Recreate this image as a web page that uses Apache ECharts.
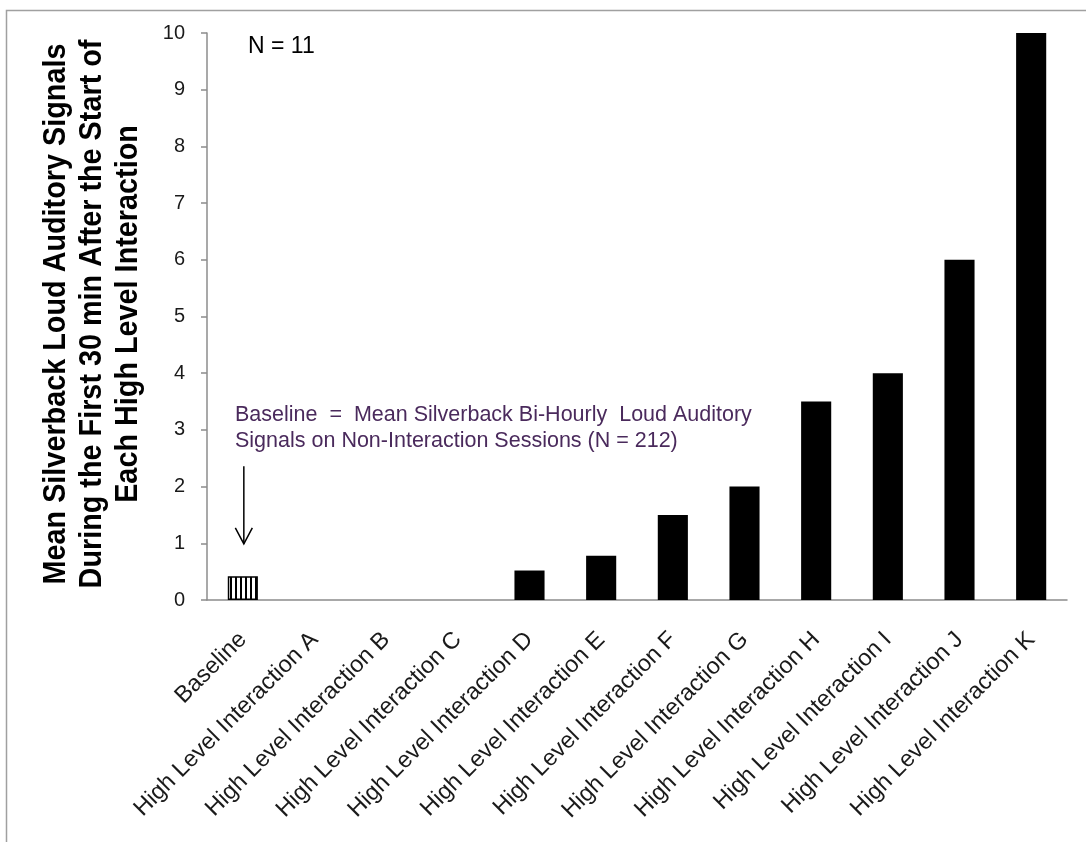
<!DOCTYPE html>
<html>
<head>
<meta charset="utf-8">
<script src="https://cdn.jsdelivr.net/npm/echarts@6/dist/echarts.min.js"></script>
<style>html,body{margin:0;padding:0;background:#fff;}#c{width:1086px;height:842px;}</style>
</head>
<body>
<div id="c"></div>
<script>
const categories = ['Baseline','High Level Interaction A','High Level Interaction B','High Level Interaction C','High Level Interaction D','High Level Interaction E','High Level Interaction F','High Level Interaction G','High Level Interaction H','High Level Interaction I','High Level Interaction J','High Level Interaction K'];
const values = [0.42, 0, 0, 0, 0.52, 0.78, 1.5, 2.0, 3.5, 4.0, 6.0, 10.0];
const yTicks = [0,1,2,3,4,5,6,7,8,9,10];
const yTitle = ['Mean Silverback Loud Auditory Signals','During the First 30 min After the Start of','Each High Level Interaction'];
const note = ['Baseline  =  Mean Silverback Bi-Hourly  Loud Auditory','Signals on Non-Interaction Sessions (N = 212)'];
const arrowFrom = 2.36, arrowTo = 0.99;

// stripe pattern for the baseline bar
const pc = document.createElement('canvas');
pc.width = 5; pc.height = 5;
const pctx = pc.getContext('2d');
pctx.fillStyle = '#fff'; pctx.fillRect(0,0,5,5);
pctx.fillStyle = '#000'; pctx.fillRect(0,0,2,5);

const data = values.map((v,i) => i === 0 ? {
  value: v,
  itemStyle: { color: { image: pc, repeat: 'repeat' }, borderColor: '#000', borderWidth: 1.5 }
} : v);

const FONT = 'Arial, "Liberation Sans", sans-serif';
const chart = echarts.init(document.getElementById('c'));
chart.setOption({
  animation: false,
  grid: { left: 207, right: 19, top: 33, bottom: 242 },
  xAxis: {
    type: 'category',
    data: categories,
    axisLine: { lineStyle: { color: '#8c8c8c', width: 1.5 } },
    axisTick: { alignWithLabel: false, length: 6, lineStyle: { color: '#8c8c8c', width: 1.5 } },
    axisLabel: { rotate: 45, interval: 0, fontFamily: FONT, fontSize: 23.5, color: '#1a1a1a', margin: 36 }
  },
  yAxis: {
    type: 'value', min: 0, max: 10, interval: 1,
    splitLine: { show: false },
    axisLine: { show: true, lineStyle: { color: '#8c8c8c', width: 1.5 } },
    axisTick: { show: true, length: 6, lineStyle: { color: '#8c8c8c', width: 1.5 } },
    axisLabel: { fontFamily: FONT, fontSize: 20, color: '#1a1a1a', margin: 22,
      formatter: v => yTicks.includes(v) ? String(v) : '' }
  },
  series: [{
    type: 'bar',
    data: data,
    barWidth: '42%',
    itemStyle: { color: '#000', borderWidth: 0 }
  }],
  graphic: [
    { id: 'frame', type: 'rect', left: 4, top: 8, shape: { width: 1090, height: 840 }, style: { fill: 'none', stroke: '#a0a0a0', lineWidth: 1.5 }, silent: true },
    { id: 'ytitle', type: 'text', x: 92, y: 314, rotation: Math.PI/2, scaleX: 0.9, scaleY: 1,
      style: { text: yTitle.join('\n'), font: 'bold 32px ' + FONT, fill: '#000', align: 'center', verticalAlign: 'middle', lineHeight: 36 } },
    { id: 'n', type: 'text', x: 248, y: 47, style: { text: 'N = 11', font: '23px ' + FONT, fill: '#000', verticalAlign: 'middle' } },
    { id: 'note', type: 'text', x: 235, y: 428, style: { text: note.join('\n'), font: '21.5px ' + FONT, fill: '#4a2a5c', lineHeight: 26, verticalAlign: 'middle' } }
  ]
});

// arrow pointing at the baseline bar, positioned through the chart's scales
const pTop = chart.convertToPixel({ seriesIndex: 0 }, [categories[0], arrowFrom]);
const pTip = chart.convertToPixel({ seriesIndex: 0 }, [categories[0], arrowTo]);
const ax = pTop[0] + 1;
chart.setOption({
  graphic: [
    { id: 'shaft', type: 'line', shape: { x1: ax, y1: pTop[1], x2: ax, y2: pTip[1] }, style: { stroke: '#000', lineWidth: 1.5 } },
    { id: 'head', type: 'polyline', shape: { points: [[ax - 8.5, pTip[1] - 16], [ax, pTip[1]], [ax + 8.5, pTip[1] - 16]] }, style: { stroke: '#000', lineWidth: 1.5, fill: 'none' } }
  ]
});
</script>
</body>
</html>
